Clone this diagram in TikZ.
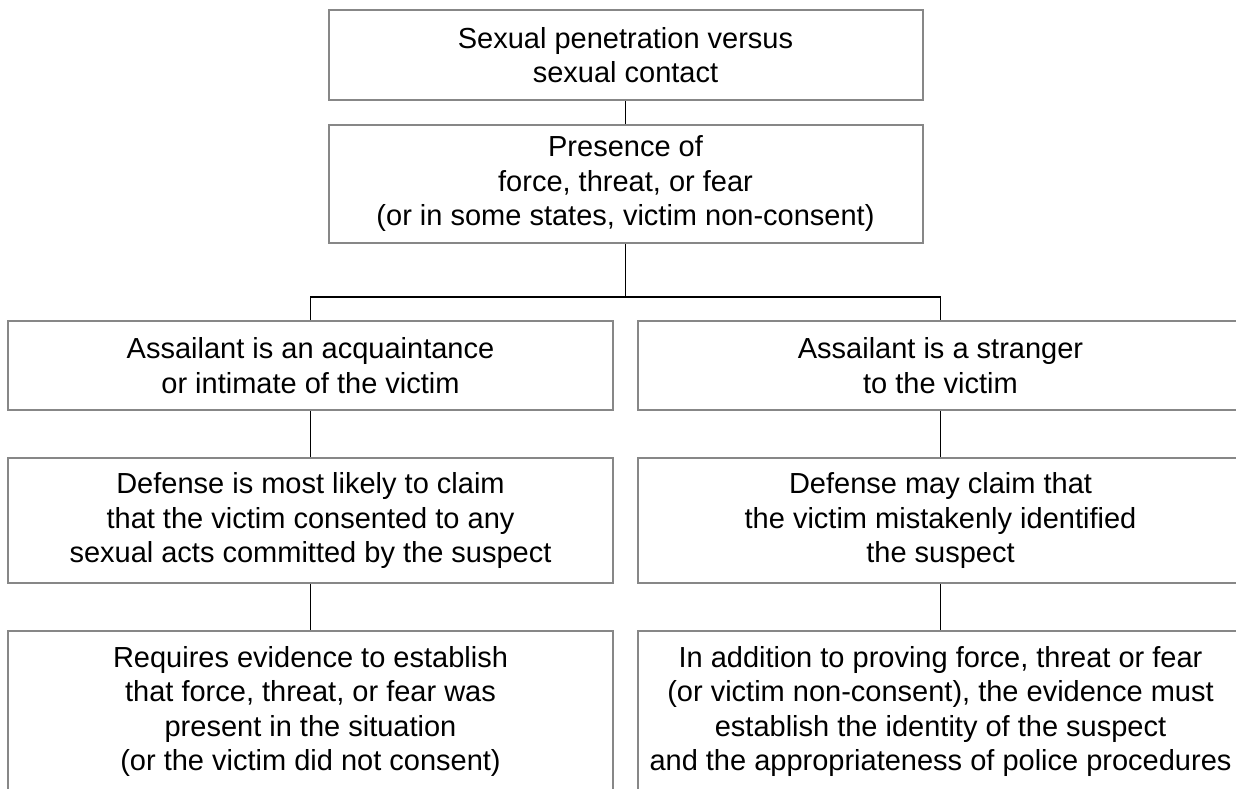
\documentclass[tikz,border=0pt]{standalone}
\usepackage{fontspec}
\setmainfont{Liberation Sans}
\usepackage{tikz}

\definecolor{boxgray}{RGB}{135,135,135}

\begin{document}
\begin{tikzpicture}[x=1pt, y=-1pt,
	box/.style={draw=boxgray, line width=2pt, align=center, inner sep=0pt,
		minimum width=605pt, font=\fontsize{29}{34.5}\selectfont},
	link/.style={line width=1.6pt}]
	\useasboundingbox (0, 0) rectangle (1236, 788);
	\clip (0, 0) rectangle (1236, 788);
	\node [box, minimum width=594pt, minimum height=90pt] (Penetration) at (625.5, 55)
		{Sexual penetration versus\\sexual contact};
	\node [box, minimum width=594pt, minimum height=118pt] (Presence) at (625.5, 184)
		{Presence of\\force, threat, or fear\\(or in some states, victim non-consent)};
	\node [box, minimum height=89pt] (Acquaintance) at (310.5, 365.5)
		{Assailant is an acquaintance\\or intimate of the victim};
	\node [box, minimum height=89pt] (Stranger) at (940.5, 365.5)
		{Assailant is a stranger\\to the victim};
	\node [box, minimum height=125pt] (ClaimConsent) at (310.5, 520.5)
		{Defense is most likely to claim\\that the victim consented to any\\sexual acts committed by the suspect};
	\node [box, minimum height=125pt] (ClaimIdentity) at (940.5, 520.5)
		{Defense may claim that\\the victim mistakenly identified\\the suspect};
	\node [box, minimum height=161pt] (ProveForce) at (310.5, 711.5)
		{Requires evidence to establish\\that force, threat, or fear was\\present in the situation\\(or the victim did not consent)};
	\node [box, minimum height=161pt] (ProveIdentity) at (940.5, 711.5)
		{In addition to proving force, threat or fear\\(or victim non-consent), the evidence must\\establish the identity of the suspect\\and the appropriateness of police procedures};
	\coordinate (Fork) at (625.5, 297);
	\draw [link] (Penetration) -- (Presence);
	\draw [link] (Presence) -- (Fork);
	\draw [link] (Acquaintance.north) |- (Fork) -| (Stranger.north);
	\draw [link] (Acquaintance) -- (ClaimConsent);
	\draw [link] (ClaimConsent) -- (ProveForce);
	\draw [link] (Stranger) -- (ClaimIdentity);
	\draw [link] (ClaimIdentity) -- (ProveIdentity);
\end{tikzpicture}
\end{document}
